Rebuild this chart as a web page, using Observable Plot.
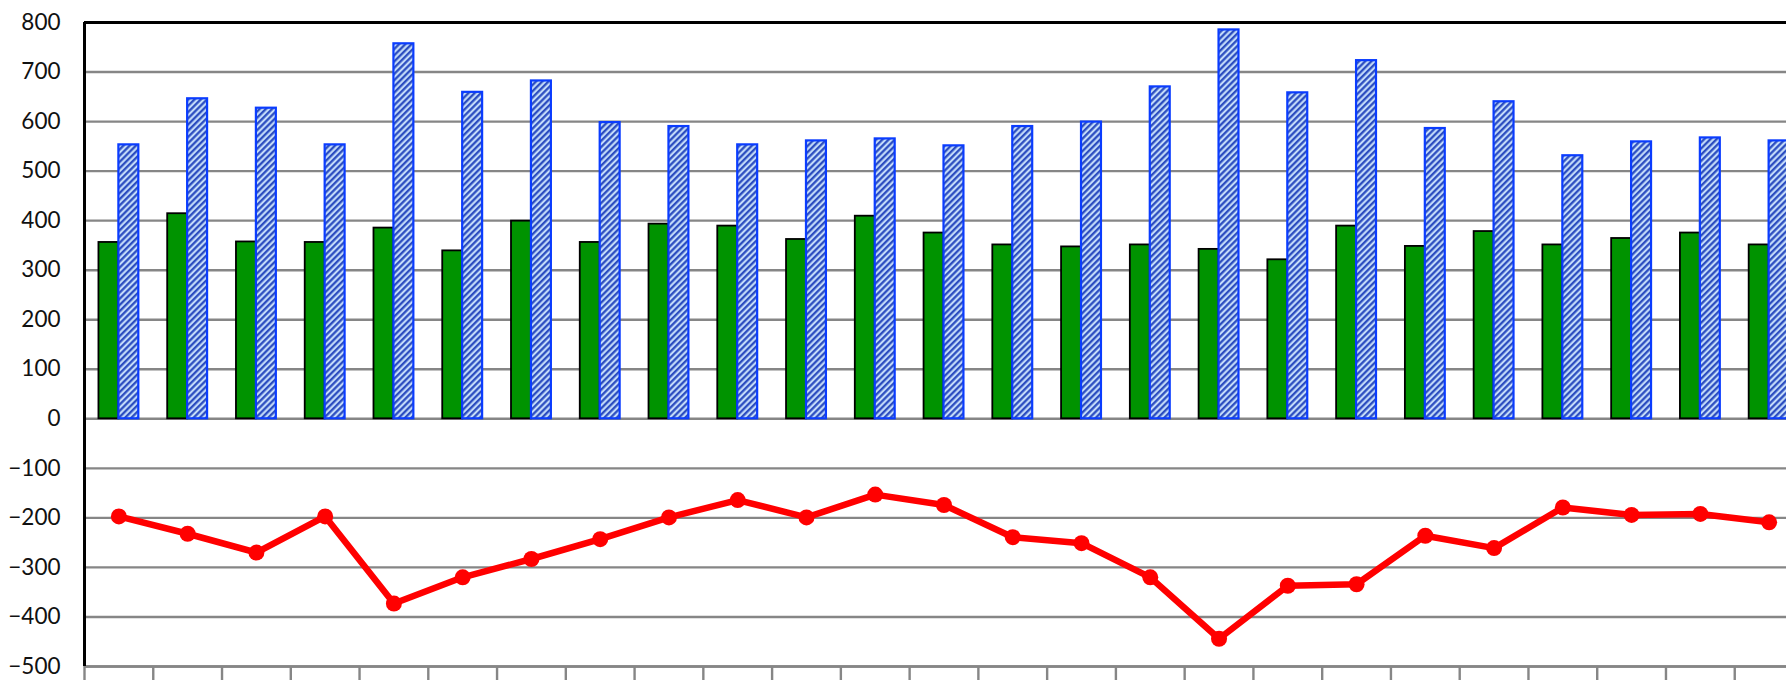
<!DOCTYPE html>
<html>
<head>
<meta charset="utf-8">
<script src="https://cdn.jsdelivr.net/npm/d3@7"></script>
<script src="https://cdn.jsdelivr.net/npm/@observablehq/plot@0.6"></script>
<style>
  html, body { margin: 0; padding: 0; background: #fff; overflow: hidden; }
  #chart svg { display: block; max-width: none; }
</style>
</head>
<body>
<div id="chart"></div>
<script>
// ---- data ----
const categories = ["1","2","3","4","5","6","7","8","9","10","11","12","13","14","15","16","17","18","19","20","21","22","23","24","25"];
const greenValues = [356, 414, 357, 356, 385, 339, 399, 356, 393, 389, 362, 409, 375, 351, 347, 351, 342, 321, 389, 348, 378, 351, 364, 375, 351];
const blueValues  = [553, 646, 627, 553, 757, 659, 682, 598, 590, 553, 561, 565, 551, 590, 599, 670, 785, 658, 723, 586, 640, 531, 559, 567, 561];
const lineValues  = [-197, -232, -270, -197, -373, -320, -283, -243, -199, -164, -199, -153, -174, -239, -251, -320, -444, -337, -334, -236, -261, -179, -194, -192, -209];
const yTicks = [-500, -400, -300, -200, -100, 0, 100, 200, 300, 400, 500, 600, 700, 800];

// table for the library
const rows = categories.map((c, i) => ({i, cat: c, green: greenValues[i], blue: blueValues[i], net: lineValues[i]}));
const bounds = d3.range(categories.length + 1).map(k => k - 0.5);
const barW = 0.29;

const chart = Plot.plot({
  width: 1786,
  height: 680,
  marginTop: 22,
  marginBottom: 14,
  marginLeft: 84,
  marginRight: 0,
  style: {fontFamily: "Lato, 'Open Sans', sans-serif", background: "white", overflow: "visible"},
  x: {domain: [-0.5, categories.length - 0.5], range: [84, 1803], axis: null},
  y: {domain: [-500, 800], axis: null},
  marks: [
    Plot.gridY(yTicks.filter(v => v < 800), {stroke: "#868686", strokeOpacity: 1, strokeWidth: 2.4}),
    Plot.axisX(bounds, {anchor: "bottom", label: null, tickSize: 16, tickFormat: () => "", stroke: "#868686", strokeWidth: 2.4, tickPadding: 0}),
    Plot.ruleY([-500], {stroke: "#868686", strokeWidth: 2.4}),
    Plot.ruleY([800], {stroke: "black", strokeWidth: 3}),
    Plot.axisY(yTicks, {anchor: "left", label: null, tickSize: 0, tickPadding: 24, fontSize: 22.5, fill: "#111", stroke: null}),
    Plot.rectY(rows, {x1: d => d.i - barW, x2: d => d.i, y: "green", fill: "#009300", stroke: "black", strokeWidth: 1.8}),
    Plot.rectY(rows, {x1: d => d.i, x2: d => d.i + barW, y: "blue", fill: "url(#hatch)", stroke: "#0a3cff", strokeWidth: 2.2}),
    Plot.ruleX([-0.5], {y1: -500, y2: 800, stroke: "black", strokeWidth: 3}),
    Plot.line(rows, {x: "i", y: "net", stroke: "#ff0000", strokeWidth: 6.5, strokeLinejoin: "round"}),
    Plot.dot(rows, {x: "i", y: "net", r: 8, fill: "#ff0000", stroke: "none"})
  ]
});

// hatch pattern for the blue bars
const defs = d3.select(chart).insert("defs", ":first-child");
const pat = defs.append("pattern")
  .attr("id", "hatch")
  .attr("patternUnits", "userSpaceOnUse")
  .attr("width", 4.4).attr("height", 4.4)
  .attr("patternTransform", "rotate(45)");
pat.append("rect").attr("width", 4.4).attr("height", 4.4).attr("fill", "#9dbaf0");
pat.append("rect").attr("x", 0).attr("width", 2.1).attr("height", 4.4).attr("fill", "#2c4dbf");
pat.append("rect").attr("x", 2.8).attr("width", 1.0).attr("height", 4.4).attr("fill", "#dcefff");

document.getElementById("chart").appendChild(chart);
</script>
</body>
</html>
